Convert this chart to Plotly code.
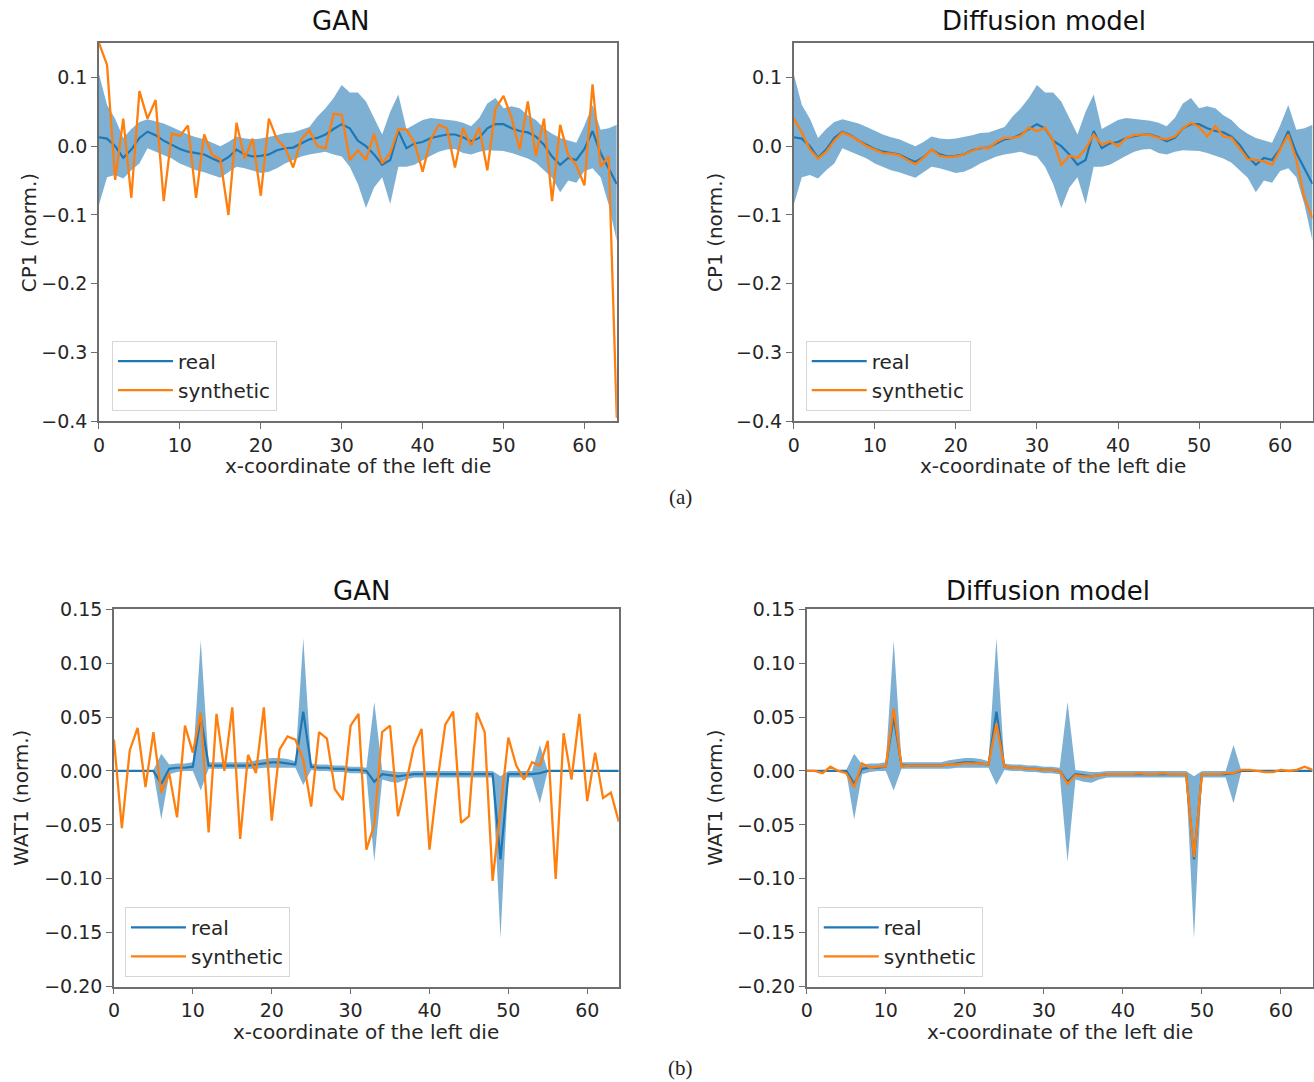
import plotly.graph_objects as go

# ---------------- data ----------------
x_die = list(range(65))

# CP1: real mean and spread band (shared by both panels)
cp1_real = [0.013, 0.011, 0.0, -0.017, -0.005, 0.012, 0.021, 0.016, 0.008, 0.002,
            -0.004, -0.008, -0.010, -0.012, -0.018, -0.023, -0.016, -0.005, -0.012, -0.015,
            -0.014, -0.012, -0.006, -0.003, -0.002, 0.004, 0.010, 0.012, 0.017, 0.025,
            0.032, 0.026, 0.008, 0.000, -0.012, -0.027, -0.020, 0.022, -0.003, 0.004,
            0.006, 0.012, 0.015, 0.017, 0.017, 0.013, 0.007, 0.012, 0.026, 0.032,
            0.032, 0.026, 0.022, 0.020, 0.014, 0.002, -0.015, -0.027, -0.017, -0.020,
            -0.004, 0.022, -0.010, -0.032, -0.055]
cp1_upper = [0.105, 0.060, 0.040, 0.012, 0.025, 0.035, 0.039, 0.036, 0.033, 0.028,
             0.022, 0.017, 0.013, 0.010, 0.005, 0.000, 0.006, 0.014, 0.011, 0.010,
             0.011, 0.013, 0.016, 0.019, 0.020, 0.024, 0.028, 0.043, 0.055, 0.070,
             0.089, 0.078, 0.078, 0.065, 0.040, 0.017, 0.050, 0.075, 0.025, 0.031,
             0.038, 0.041, 0.040, 0.039, 0.037, 0.034, 0.029, 0.041, 0.062, 0.070,
             0.055, 0.058, 0.055, 0.045, 0.038, 0.026, 0.018, 0.012, 0.008, 0.005,
             0.030, 0.060, 0.024, 0.026, 0.031]
cp1_lower = [-0.085, -0.045, -0.042, -0.047, -0.035, -0.025, -0.003, -0.008, -0.012, -0.018,
             -0.025, -0.030, -0.035, -0.038, -0.042, -0.046, -0.038, -0.030, -0.032, -0.036,
             -0.039, -0.037, -0.032, -0.025, -0.020, -0.015, -0.012, -0.010, -0.008, -0.012,
             -0.015, -0.030, -0.055, -0.090, -0.060, -0.045, -0.084, -0.030, -0.030, -0.027,
             -0.020, -0.014, -0.008, -0.005, -0.004, -0.010, -0.012, -0.008, -0.006, -0.007,
             -0.007, -0.010, -0.014, -0.018, -0.024, -0.035, -0.046, -0.067, -0.050, -0.053,
             -0.036, -0.032, -0.045, -0.085, -0.138]
cp1_gan = [0.150, 0.118, -0.049, 0.040, -0.075, 0.080, 0.040, 0.067, -0.080, 0.018,
           0.015, 0.030, -0.075, 0.017, -0.013, -0.019, -0.100, 0.034, -0.018, 0.011,
           -0.072, 0.040, 0.010, -0.002, -0.031, 0.010, 0.023, 0.000, -0.003, 0.047,
           0.046, -0.020, -0.006, -0.020, 0.018, -0.025, -0.010, 0.025, 0.024, 0.005,
           -0.037, 0.010, 0.031, 0.026, -0.031, 0.026, 0.001, 0.027, -0.035, 0.054,
           0.073, 0.041, -0.005, 0.065, -0.014, 0.040, -0.080, 0.031, -0.013, -0.028,
           -0.057, 0.090, -0.030, -0.015, -0.395]
cp1_diff = [0.040, 0.020, -0.005, -0.018, -0.008, 0.008, 0.020, 0.015, 0.008, 0.000,
            -0.005, -0.010, -0.011, -0.013, -0.020, -0.026, -0.017, -0.005, -0.014, -0.016,
            -0.015, -0.012, -0.007, -0.002, -0.003, 0.006, 0.012, 0.012, 0.015, 0.027,
            0.022, 0.027, 0.008, -0.027, -0.014, -0.017, -0.004, 0.017, 0.002, 0.007,
            0.000, 0.012, 0.016, 0.017, 0.016, 0.012, 0.010, 0.014, 0.026, 0.034,
            0.028, 0.014, 0.029, 0.014, 0.012, -0.004, -0.019, -0.020, -0.022, -0.027,
            -0.005, 0.017, -0.020, -0.075, -0.105]

# WAT1: real mean and spread band (shared by both panels)
wat1_real = [0.0, 0.0, 0.0, 0.0, 0.0, 0.0, -0.012, 0.002, 0.003, 0.003,
             0.004, 0.050, 0.005, 0.005, 0.005, 0.005, 0.005, 0.005, 0.006, 0.007,
             0.008, 0.008, 0.007, 0.006, 0.055, 0.004, 0.003, 0.003, 0.002, 0.002,
             0.001, 0.001, 0.000, -0.010, -0.003, -0.004, -0.005, -0.004, -0.003, -0.003,
             -0.003, -0.003, -0.003, -0.003, -0.003, -0.003, -0.003, -0.003, -0.003, -0.082,
             -0.003, -0.003, -0.003, -0.003, -0.002, 0.0, 0.0, 0.0, 0.0, 0.0,
             0.0, 0.0, 0.0, 0.0, 0.0]
wat1_upper = [0.0, 0.0, 0.0, 0.0, 0.0, 0.001, 0.016, 0.006, 0.007, 0.007,
              0.008, 0.121, 0.008, 0.008, 0.008, 0.008, 0.008, 0.008, 0.010, 0.011,
              0.012, 0.012, 0.011, 0.009, 0.123, 0.007, 0.006, 0.006, 0.005, 0.005,
              0.004, 0.004, 0.003, 0.064, 0.001, 0.000, -0.001, -0.001, 0.000, 0.000,
              0.000, 0.000, 0.000, 0.000, 0.000, 0.000, 0.000, 0.000, 0.000, -0.005,
              0.000, 0.000, 0.000, 0.000, 0.024, 0.0, 0.0, 0.0, 0.0, 0.0,
              0.0, 0.0, 0.0, 0.0, 0.0]
wat1_lower = [0.0, 0.0, 0.0, 0.0, 0.0, -0.001, -0.045, -0.003, -0.001, 0.000,
              0.000, -0.018, 0.002, 0.002, 0.002, 0.002, 0.002, 0.002, 0.002, 0.003,
              0.003, 0.003, 0.003, 0.003, -0.013, 0.001, 0.000, 0.000, -0.001, -0.001,
              -0.002, -0.002, -0.003, -0.084, -0.008, -0.010, -0.011, -0.008, -0.006, -0.006,
              -0.006, -0.006, -0.006, -0.006, -0.006, -0.006, -0.006, -0.006, -0.006, -0.155,
              -0.006, -0.006, -0.006, -0.006, -0.030, 0.0, 0.0, 0.0, 0.0, 0.0,
              0.0, 0.0, 0.0, 0.0, 0.0]
wat1_gan = [0.029, -0.053, 0.019, 0.040, -0.015, 0.036, -0.020, -0.002, -0.043, 0.042,
            0.017, 0.054, -0.057, 0.053, 0.000, 0.059, -0.063, 0.015, -0.002, 0.059,
            -0.046, 0.020, 0.032, 0.029, 0.010, -0.033, 0.036, 0.030, -0.017, -0.027,
            0.042, 0.053, -0.073, -0.050, 0.036, 0.042, -0.042, -0.012, 0.022, 0.039,
            -0.073, -0.010, 0.043, 0.055, -0.048, -0.042, 0.054, 0.036, -0.102, -0.035,
            0.031, 0.005, -0.008, 0.008, 0.005, 0.028, -0.100, 0.035, -0.008, 0.053,
            -0.028, 0.017, -0.025, -0.020, -0.047]
wat1_diff = [0.0, 0.0, -0.002, 0.004, 0.000, -0.002, -0.015, 0.007, 0.003, 0.004,
             0.004, 0.058, 0.004, 0.005, 0.005, 0.005, 0.005, 0.005, 0.006, 0.006,
             0.007, 0.007, 0.007, 0.006, 0.044, 0.004, 0.003, 0.003, 0.002, 0.002,
             0.001, 0.001, 0.000, -0.012, -0.004, -0.005, -0.005, -0.004, -0.003, -0.003,
             -0.003, -0.003, -0.002, -0.003, -0.003, -0.002, -0.003, -0.003, -0.003, -0.080,
             -0.003, -0.003, -0.003, -0.002, -0.002, 0.001, 0.001, 0.000, -0.001, -0.001,
             0.001, 0.000, 0.001, 0.004, 0.001]

x_ticks = [0, 10, 20, 30, 40, 50, 60]
cp1_ticks = [-0.4, -0.3, -0.2, -0.1, 0.0, 0.1]
wat1_ticks = [-0.20, -0.15, -0.10, -0.05, 0.00, 0.05, 0.10, 0.15]

# ---------------- styling ----------------
W, H = 1314, 1082
BLUE = "#1f77b4"
ORANGE = "#ff7f0e"
BAND = "rgba(31,119,180,0.58)"
AXIS = "#6e6e6e"
TEXT = "#262626"
FONT = "DejaVu Sans"


def clamp(v):
    return max(0.0, min(1.0, v))


def px(xp):
    # pixel column -> paper x (small correction for the page's own offset)
    return clamp(((xp - 5.0) / 0.995) / W)


def py(yp):
    # pixel row -> paper y (small correction for the page's own offset)
    return clamp(1 - ((yp - 10.0) / 0.981) / H)


# panel boxes in pixels: (left, right, top, bottom)
panels = [
    dict(box=(98, 616, 42, 421), real=cp1_real, up=cp1_upper, lo=cp1_lower, syn=cp1_gan,
         yr=[-0.4, 0.15], yt=cp1_ticks, fmt=".1f", ylab="CP1 (norm.)", title="GAN",
         title_x=340, title_y=20, ylab_x=28, xlab_y=466, leg=(111, 340)),
    dict(box=(793, 1312, 42, 421), real=cp1_real, up=cp1_upper, lo=cp1_lower, syn=cp1_diff,
         yr=[-0.4, 0.15], yt=cp1_ticks, fmt=".1f", ylab="CP1 (norm.)", title="Diffusion model",
         title_x=1043, title_y=20, ylab_x=714, xlab_y=466, leg=(805, 340)),
    dict(box=(113, 618, 609, 987), real=wat1_real, up=wat1_upper, lo=wat1_lower, syn=wat1_gan,
         yr=[-0.2, 0.15], yt=wat1_ticks, fmt=".2f", ylab="WAT1 (norm.)", title="GAN",
         title_x=361, title_y=591, ylab_x=20, xlab_y=1032, leg=(124, 907)),
    dict(box=(806, 1312, 609, 987), real=wat1_real, up=wat1_upper, lo=wat1_lower, syn=wat1_diff,
         yr=[-0.2, 0.15], yt=wat1_ticks, fmt=".2f", ylab="WAT1 (norm.)", title="Diffusion model",
         title_x=1047, title_y=591, ylab_x=714, xlab_y=1032, leg=(817, 907)),
]

fig = go.Figure()
annotations = []
layout = {}

for i, p in enumerate(panels, start=1):
    sfx = "" if i == 1 else str(i)
    xa, ya = f"x{sfx}", f"y{sfx}"
    leg = "legend" if i == 1 else f"legend{i}"
    left, right, top, bottom = p["box"]

    fig.add_trace(go.Scatter(x=x_die, y=p["real"], mode="lines", name="real",
                             line=dict(color=BLUE, width=2.2), xaxis=xa, yaxis=ya,
                             legend=leg))
    fig.add_trace(go.Scatter(x=x_die, y=p["lo"], mode="lines", line=dict(width=0),
                             showlegend=False, hoverinfo="skip", xaxis=xa, yaxis=ya))
    fig.add_trace(go.Scatter(x=x_die, y=p["up"], mode="lines", line=dict(width=0),
                             fill="tonexty", fillcolor=BAND, showlegend=False,
                             hoverinfo="skip", xaxis=xa, yaxis=ya))
    fig.add_trace(go.Scatter(x=x_die, y=p["syn"], mode="lines", name="synthetic",
                             line=dict(color=ORANGE, width=2.3), xaxis=xa, yaxis=ya,
                             legend=leg))

    axis_common = dict(showline=True, mirror=True, linecolor=AXIS, linewidth=1.6,
                       ticks="outside", ticklen=6, tickwidth=1.4, tickcolor=AXIS,
                       showgrid=False, zeroline=False,
                       tickfont=dict(family=FONT, size=19, color=TEXT))
    layout[f"xaxis{sfx}"] = dict(axis_common, domain=[px(left), px(right)], range=[0, 64],
                                 tickvals=x_ticks, anchor=ya)
    layout[f"yaxis{sfx}"] = dict(axis_common, domain=[py(bottom), py(top)], range=p["yr"],
                                 tickvals=p["yt"], tickformat=p["fmt"], anchor=xa)

    lx, ly = p["leg"]
    layout[leg] = dict(x=px(lx), y=py(ly), xanchor="left", yanchor="top",
                       traceorder="normal",
                       bgcolor="rgba(255,255,255,0.85)", bordercolor="#d6d6d6",
                       borderwidth=1, font=dict(family=FONT, size=20, color=TEXT),
                       itemwidth=55, tracegroupgap=0)

    annotations.append(dict(text=p["title"], x=px(p["title_x"]), y=py(p["title_y"]),
                            xref="paper", yref="paper", showarrow=False,
                            xanchor="center", yanchor="middle",
                            font=dict(family=FONT, size=26, color="#111111")))
    annotations.append(dict(text=p["ylab"], x=px(p["ylab_x"]), y=py((top + bottom) / 2),
                            xref="paper", yref="paper", showarrow=False, textangle=-90,
                            xanchor="center", yanchor="middle",
                            font=dict(family=FONT, size=20, color=TEXT)))
    annotations.append(dict(text="x-coordinate of the left die", x=px((left + right) / 2),
                            y=py(p["xlab_y"]), xref="paper", yref="paper", showarrow=False,
                            xanchor="center", yanchor="middle",
                            font=dict(family=FONT, size=20, color=TEXT)))

for label, yy in (("(a)", 497), ("(b)", 1068)):
    annotations.append(dict(text=label, x=px(680), y=py(yy), xref="paper", yref="paper",
                            showarrow=False, xanchor="center", yanchor="middle",
                            font=dict(family="Liberation Serif", size=21, color="#222222")))

fig.update_layout(width=W, height=H, margin=dict(l=0, r=0, t=0, b=0),
                  paper_bgcolor="white", plot_bgcolor="white",
                  annotations=annotations, **layout)

fig.write_html("out.html")
